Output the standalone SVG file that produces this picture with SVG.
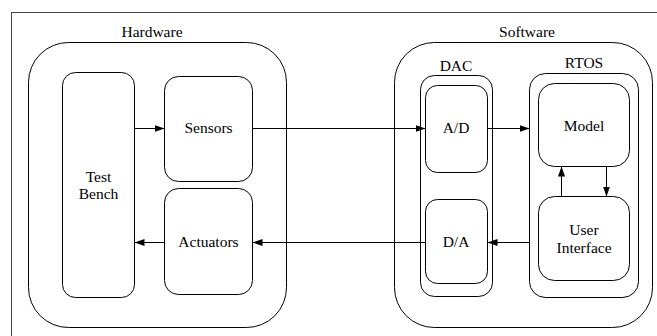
<svg xmlns="http://www.w3.org/2000/svg" width="657" height="336" viewBox="0 0 657 336">
  <defs>
    <marker id="arrow" markerUnits="userSpaceOnUse" markerWidth="11" markerHeight="8" refX="10" refY="3.5" orient="auto">
      <path d="M0,0 L10,3.5 L0,7 z" fill="#000"/>
    </marker>
  </defs>
  <style>
    .box { fill: #fff; stroke: #000; stroke-width: 1; }
    .frame { fill: #fff; stroke: #444; stroke-width: 1; }
    .lbl { font-size: 15.5px; fill: #000; text-anchor: middle; }
    .edge { stroke: #000; stroke-width: 1; fill: none; marker-end: url(#arrow); }
  </style>

  <rect width="657" height="336" fill="#fff"/>
  <!-- outer frame (extends past the right and bottom edges) -->
  <rect class="frame" x="11.5" y="12.5" width="700" height="400"/>

  <g font-family="Liberation Serif, Times New Roman, DejaVu Serif, serif">
  <!-- Hardware cluster -->
  <g id="hardware">
    <rect class="box" x="28.5" y="42.5" width="258" height="285" rx="40"/>
    <text class="lbl" x="152" y="37">Hardware</text>
  </g>
  <g id="test-bench">
    <rect class="box" x="62.5" y="72.5" width="72" height="225" rx="13"/>
    <text class="lbl" x="98.5" y="181.5">Test</text>
    <text class="lbl" x="98.5" y="198.5">Bench</text>
  </g>
  <g id="sensors">
    <rect class="box" x="164.5" y="76.5" width="88" height="105" rx="14"/>
    <text class="lbl" x="208.5" y="133">Sensors</text>
  </g>
  <g id="actuators">
    <rect class="box" x="164.5" y="188.5" width="88" height="106" rx="14"/>
    <text class="lbl" x="208.5" y="246.5">Actuators</text>
  </g>

  <!-- Software cluster -->
  <g id="software">
    <rect class="box" x="394.5" y="42.5" width="258" height="285" rx="40"/>
    <text class="lbl" x="527" y="37">Software</text>
  </g>
  <g id="dac">
    <rect class="box" x="420.5" y="75.5" width="72" height="221" rx="14"/>
    <text class="lbl" x="456" y="70.5">DAC</text>
  </g>
  <g id="ad">
    <rect class="box" x="425.5" y="85.5" width="62" height="87" rx="12"/>
    <text class="lbl" x="456" y="133">A/D</text>
  </g>
  <g id="da">
    <rect class="box" x="425.5" y="199.5" width="62" height="84" rx="12"/>
    <text class="lbl" x="456" y="246.5">D/A</text>
  </g>
  <g id="rtos">
    <rect class="box" x="529.5" y="73.5" width="109" height="224" rx="16"/>
    <text class="lbl" x="584" y="68">RTOS</text>
  </g>
  <g id="model">
    <rect class="box" x="538.5" y="83.5" width="91" height="83" rx="16"/>
    <text class="lbl" x="584" y="130.5">Model</text>
  </g>
  <g id="user-interface">
    <rect class="box" x="538.5" y="196.5" width="91" height="84" rx="16"/>
    <text class="lbl" x="584" y="234.5">User</text>
    <text class="lbl" x="584" y="252.5">Interface</text>
  </g>
  </g>

  <!-- connectors -->
  <g id="edges">
    <line class="edge" x1="134.5" y1="128.5" x2="164.5" y2="128.5"/>
    <line class="edge" x1="252.5" y1="128.5" x2="425.5" y2="128.5"/>
    <line class="edge" x1="487.5" y1="128.5" x2="529.5" y2="128.5"/>
    <line class="edge" x1="529.5" y1="242.5" x2="487.5" y2="242.5"/>
    <line class="edge" x1="425.5" y1="242.5" x2="252.5" y2="242.5"/>
    <line class="edge" x1="164.5" y1="242.5" x2="134.5" y2="242.5"/>
    <line class="edge" x1="561.5" y1="196.5" x2="561.5" y2="166.5"/>
    <line class="edge" x1="606.5" y1="166.5" x2="606.5" y2="196.5"/>
  </g>
</svg>
